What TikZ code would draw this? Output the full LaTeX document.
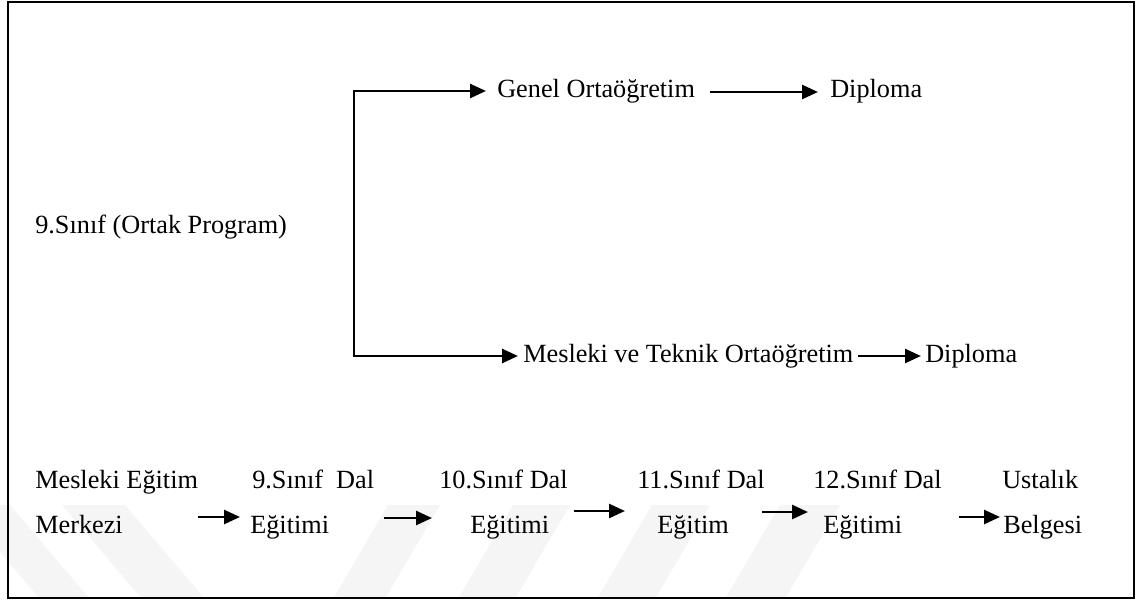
\documentclass[tikz,border=0pt]{standalone}
\usepackage{fontspec}
\setmainfont{Liberation Serif}
\usetikzlibrary{arrows.meta}
\begin{document}
\begin{tikzpicture}[x=0.75pt,y=-0.75pt,
  lbl/.style={anchor=base west,inner sep=0pt,font=\fontsize{19.7pt}{23pt}\selectfont},
  conn/.style={line width=2pt},
  arr/.style={conn,-{Triangle[length=12pt,width=10.5pt]}},
  band/.style={fill=black!4,draw=none}]
\useasboundingbox (0,0) rectangle (1147,601);

% faint diagonal bands behind the lower row
\fill[band] (-40,505) -- (10,505) -- (90,599) -- (40,599) -- cycle;
\fill[band] (62,505) -- (125,505) -- (205,599) -- (142,599) -- cycle;
\fill[band] (388,505) -- (440,505) -- (385,599) -- (333,599) -- cycle;
\fill[band] (513,505) -- (570,505) -- (515,599) -- (458,599) -- cycle;
\fill[band] (652,505) -- (710,505) -- (655,599) -- (597,599) -- cycle;
\fill[band] (780,505) -- (840,505) -- (785,599) -- (725,599) -- cycle;

% outer frame
\draw[line width=1.6pt] (8,2) rectangle (1134,598);

% upper part: common year branching into two tracks
\node[lbl] (ortak) at (35,233) {9.Sınıf (Ortak Program)};
\node[lbl] (genel) at (497,97) {Genel Ortaöğretim};
\node[lbl] (dipA)  at (830,97) {Diploma};
\node[lbl] (mtek)  at (523,362) {Mesleki ve Teknik Ortaöğretim};
\node[lbl] (dipB)  at (925,362) {Diploma};

\coordinate (forkT) at (354,91);
\coordinate (forkB) at (354,356);
\draw[conn] (forkT) -- (forkB);
\draw[arr] ([xshift=-1pt]forkT) -- ([shift={(-11,-6)}]genel.base west);
\draw[arr] ([xshift=-1pt]forkB) -- ([shift={(-5,-6)}]mtek.base west);
\draw[arr] ([shift={(-120,-5)}]dipA.base west) -- ([shift={(-12,-5)}]dipA.base west);
\draw[arr] ([shift={(-67,-6)}]dipB.base west) -- ([shift={(-4,-6)}]dipB.base west);

% lower part: apprenticeship chain
\node[lbl] (mem1) at (35,488)  {Mesleki Eğitim};
\node[lbl] (mem2) at (35,533)  {Merkezi};
\node[lbl] (s9a)  at (252,488) {9.Sınıf\ \ Dal};
\node[lbl] (s9b)  at (250,533) {Eğitimi};
\node[lbl] (s10a) at (439,488) {10.Sınıf Dal};
\node[lbl] (s10b) at (470,533) {Eğitimi};
\node[lbl] (s11a) at (637,488) {11.Sınıf Dal};
\node[lbl] (s11b) at (657,533) {Eğitim};
\node[lbl] (s12a) at (813,488) {12.Sınıf Dal};
\node[lbl] (s12b) at (823,533) {Eğitimi};
\node[lbl] (ust)  at (1002,488) {Ustalık};
\node[lbl] (bel)  at (1003,533) {Belgesi};

\draw[arr] ([shift={(-52,-16)}]s9b.base west)  -- ([shift={(-10,-16)}]s9b.base west);
\draw[arr] ([shift={(-86,-15)}]s10b.base west) -- ([shift={(-38,-15)}]s10b.base west);
\draw[arr] ([shift={(-83,-22)}]s11b.base west) -- ([shift={(-32,-22)}]s11b.base west);
\draw[arr] ([shift={(-61,-21)}]s12b.base west) -- ([shift={(-15,-21)}]s12b.base west);
\draw[arr] ([shift={(-44,-16)}]bel.base west)  -- ([shift={(-3,-16)}]bel.base west);
\end{tikzpicture}
\end{document}
